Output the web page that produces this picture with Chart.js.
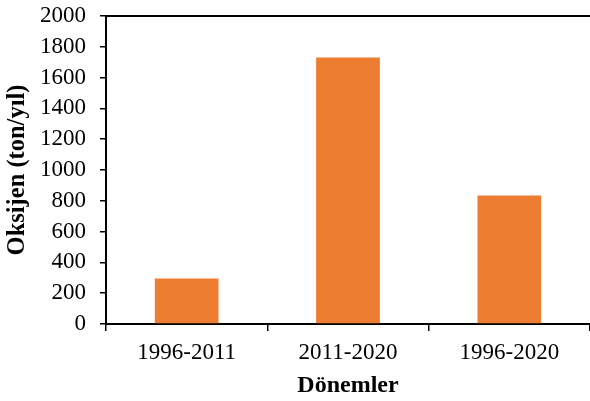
<!DOCTYPE html>
<html>
<head>
<meta charset="utf-8">
<script src="https://cdn.jsdelivr.net/npm/chart.js@4/dist/chart.umd.min.js"></script>
<style>
html,body{margin:0;padding:0;background:#fff;}
#wrap{width:590px;height:401px;position:relative;}
</style>
</head>
<body>
<div id="wrap"><canvas id="c" width="590" height="401"></canvas></div>
<script>
const categories = ["1996-2011", "2011-2020", "1996-2020"];
const oxygenValues = [295, 1730, 835];
const yAxisTitle = "Oksijen (ton/yıl)";
const xAxisTitle = "Dönemler";

const serif = "'Liberation Serif','Times New Roman',serif";

const topLine = {
  id: 'topLine',
  afterDraw(chart) {
    const {ctx, chartArea} = chart;
    ctx.save();
    ctx.strokeStyle = '#000';
    ctx.lineWidth = 2;
    ctx.beginPath();
    ctx.moveTo(chartArea.left - 1, chartArea.top);
    ctx.lineTo(chart.width, chartArea.top);
    ctx.stroke();
    ctx.restore();
  }
};

new Chart(document.getElementById('c'), {
  type: 'bar',
  data: {
    labels: categories,
    datasets: [{
      data: oxygenValues,
      backgroundColor: '#ED7D31',
      borderWidth: 0,
      barPercentage: 0.395,
      categoryPercentage: 1.0
    }]
  },
  options: {
    responsive: false,
    animation: false,
    devicePixelRatio: 1,
    layout: { padding: { top: 16, right: 0, left: 0, bottom: 0 } },
    plugins: { legend: { display: false }, tooltip: { enabled: false } },
    scales: {
      x: {
        grid: { offset: true, drawOnChartArea: false, color: '#000', lineWidth: 1.5, tickLength: 7 },
        border: { color: '#000', width: 2 },
        ticks: { color: '#000', font: { family: serif, size: 23 }, padding: 8, maxRotation: 0 },
        title: { display: true, text: xAxisTitle, color: '#000', font: { family: serif, size: 24, weight: 'bold' }, padding: { top: 2, bottom: 1 } },
        afterFit(scale) { scale.height = 77; scale.paddingLeft = 0; scale.paddingRight = 0; }
      },
      y: {
        min: 0, max: 2000,
        ticks: { stepSize: 200, color: '#000', font: { family: serif, size: 23 }, padding: 14,
                 callback: (v) => String(v) },
        grid: { drawOnChartArea: false, color: '#000', lineWidth: 1.5, tickLength: 6 },
        border: { color: '#000', width: 2 },
        title: { display: true, text: yAxisTitle, color: '#000', font: { family: serif, size: 24.5, weight: 'bold' }, padding: { top: 3, bottom: 0 } },
        afterFit(scale) { scale.width = 106; scale.paddingTop = 0; scale.paddingBottom = 0; }
      }
    }
  },
  plugins: [topLine]
});
</script>
</body>
</html>
